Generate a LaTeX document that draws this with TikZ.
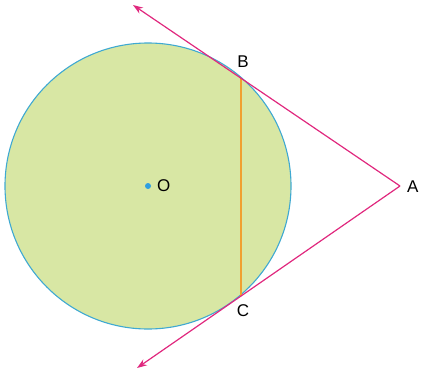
\documentclass[tikz,border=0pt]{standalone}
\usepackage{fontspec}
\setmainfont{Liberation Sans}
\usetikzlibrary{arrows.meta}
\definecolor{fillgreen}{HTML}{D8E7A4}
\definecolor{circblue}{HTML}{3FA9D2}
\definecolor{magline}{HTML}{E0287E}
\definecolor{chordorange}{HTML}{F0A030}
\definecolor{dotblue}{HTML}{2E9FE0}
\begin{document}
\begin{tikzpicture}[x=1pt,y=-1pt,
  lbl/.style={font=\fontsize{17}{17}\selectfont, text=black, inner sep=0pt},
  tangent/.style={draw=magline, line width=1.2pt, -{Stealth[length=10pt,width=7pt]}}]
\useasboundingbox (0,0) rectangle (425,375);
\coordinate (O) at (148,186);
\coordinate (A) at (400,186);
\coordinate (B) at (241,78);
\coordinate (C) at (241,296);
\coordinate (T1) at (133,5);
\coordinate (T2) at (137,368);
\fill[fillgreen] (O) circle[radius=143];
\draw[circblue, line width=1.1pt] (O) circle[radius=143];
\draw[chordorange, line width=1.1pt] (B) -- (C);
\draw[tangent] (A) -- (T1);
\draw[tangent] (A) -- (T2);
\fill[dotblue] (O) circle[radius=3];
\node[lbl, anchor=west] (lO) at (157,186) {O};
\node[lbl, anchor=west] (lA) at (407,187) {A};
\node[lbl] (lB) at (243,62) {B};
\node[lbl] (lC) at (243,311) {C};
\end{tikzpicture}
\end{document}
